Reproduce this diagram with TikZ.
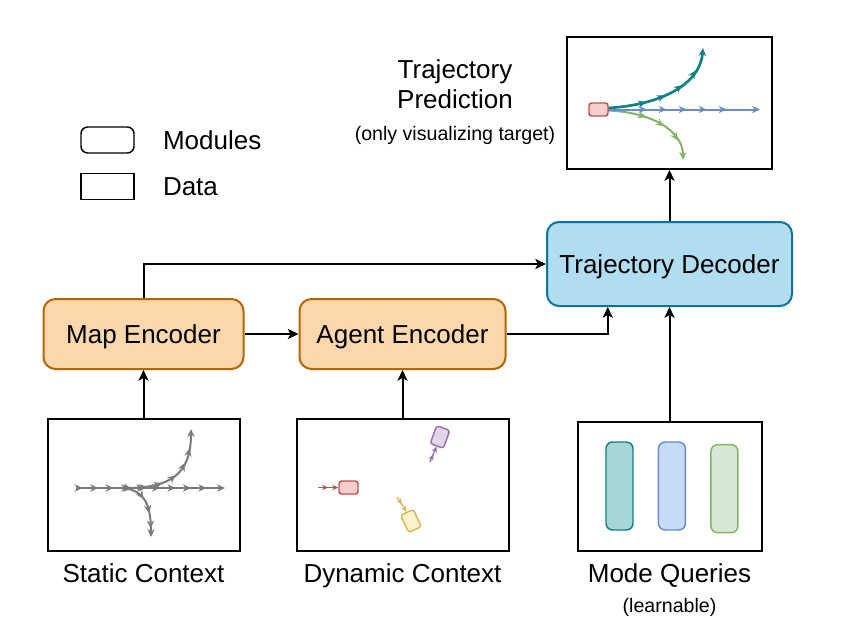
\documentclass[tikz,border=0pt]{standalone}
\usepackage{fontspec}
\setmainfont{Liberation Sans}
\usetikzlibrary{positioning,arrows.meta,calc,decorations.markings}

\definecolor{moduleFill}{HTML}{FAD7AC}
\definecolor{moduleDraw}{HTML}{B46504}
\definecolor{decoderFill}{HTML}{B1DDF0}
\definecolor{decoderDraw}{HTML}{10739E}
\definecolor{mapGray}{HTML}{7A7A7A}
\definecolor{redDraw}{HTML}{B85450}
\definecolor{redFill}{HTML}{F8CECC}
\definecolor{purpleDraw}{HTML}{9673A6}
\definecolor{purpleFill}{HTML}{E1D5E7}
\definecolor{yellowDraw}{HTML}{D6B656}
\definecolor{yellowFill}{HTML}{FFF2CC}
\definecolor{tealDraw}{HTML}{0E8088}
\definecolor{tealFill}{HTML}{A8D5D5}
\definecolor{blueDraw}{HTML}{6C8EBF}
\definecolor{blueFill}{HTML}{C6DBF5}
\definecolor{greenDraw}{HTML}{82B366}
\definecolor{greenFill}{HTML}{D5E8D4}

\begin{document}
\begin{tikzpicture}[x=0.75pt, y=-0.75pt]
  \newdimen\dist
  \dist=0.75pt

  \tikzstyle{module} = [
    % The shape:
    rectangle, minimum height=70*\dist, rounded corners=9pt,
    % The border:
    line width=1.5pt,
    draw=moduleDraw,
    % The filling:
    fill=moduleFill,
    % Font:
    font=\fontsize{19.5}{23}\selectfont, text height=14pt, text depth=0pt
  ];
  \tikzstyle{decoder} = [
    module,
    draw=decoderDraw,
    fill=decoderFill
  ];
  \tikzstyle{dataBox} = [
    % The shape:
    rectangle, minimum height=132*\dist,
    % The border:
    line width=1.5pt,
    draw=black
  ];
  \tikzstyle{keyBox} = [
    rectangle, minimum width=53*\dist, minimum height=26*\dist,
    line width=1.1pt,
    draw=black
  ];
  \tikzstyle{caption} = [
    % Just text!
    font=\fontsize{19.5}{23}\selectfont, text height=14pt, text depth=0pt,
    inner sep=0pt
  ];
  \tikzstyle{note} = [
    % Just text!
    font=\fontsize{14.7}{17}\selectfont, text height=10.6pt, text depth=0pt,
    inner sep=0pt
  ];
  \tikzstyle{agent} = [
    rectangle, minimum width=19*\dist, minimum height=13*\dist,
    rounded corners=2pt, inner sep=0pt,
    line width=1.1pt
  ];
  \tikzstyle{query} = [
    rectangle, minimum width=27*\dist, minimum height=88*\dist,
    rounded corners=5pt,
    line width=1.1pt
  ];
  \tikzstyle{flow} = [
    draw = black,
    line width=1.5pt,
    -{Stealth[length=8pt, width=7.5pt, inset=2pt]}
  ];
  \tikzstyle{mapTrail} = [
    draw = mapGray,
    line width=1.5pt,
    -{Stealth[length=6pt, width=5.5pt]},
    decoration={markings,
      mark=between positions 5pt and 0.92 step 11.6pt with
        {\arrow{Stealth[length=6pt, width=5.5pt]}}},
    postaction={decorate}
  ];
  \tikzstyle{predTrail} = [
    line width=1.5pt,
    -{Stealth[length=6pt, width=5.5pt]},
    decoration={markings,
      mark=between positions 29pt and 0.9 step 15pt with
        {\arrow{Stealth[length=6pt, width=5.5pt]}}},
    postaction={decorate}
  ];
  \tikzstyle{agentTrail} = [
    line width=1pt,
    -{Stealth[length=4.5pt, width=4pt]},
    decoration={markings,
      mark=at position 0.5 with {\arrow{Stealth[length=4.5pt, width=4pt]}}},
    postaction={decorate}
  ];

  \useasboundingbox (0,0) rectangle (844,618);

  % Legend
  \node [keyBox, rounded corners=5pt] (modulesKey) at (107.5,140) {};
  \node [keyBox, below = 19*\dist of modulesKey] (dataKey) {};
  \node [caption, right = 28*\dist of modulesKey] (modulesText) {Modules};
  \node [caption, right = 28*\dist of dataKey] (dataText) {Data};

  % Modules
  \node [module, minimum width=200*\dist] (mapEncoder) at (143.5,334) {Map Encoder};
  \node [module, minimum width=206*\dist, right = 54*\dist of mapEncoder] (agentEncoder) {Agent Encoder};
  \node [decoder, minimum width=245*\dist, minimum height=84*\dist] (trajectoryDecoder) at (669.5,264) {Trajectory Decoder};

  % Data
  \node [dataBox, minimum width=192*\dist, below = 48*\dist of mapEncoder] (staticContext) {};
  \node [dataBox, minimum width=212*\dist, below = 48*\dist of agentEncoder] (dynamicContext) {};
  \node [dataBox, minimum width=184*\dist, minimum height=129*\dist, below = 114*\dist of trajectoryDecoder] (modeQueries) {};
  \node [dataBox, minimum width=205*\dist, above = 51*\dist of trajectoryDecoder] (prediction) {};

  \node [caption, below = 12*\dist of staticContext] (staticLabel) {Static Context};
  \node [caption, below = 12*\dist of dynamicContext] (dynamicLabel) {Dynamic Context};
  \node [caption, below = 12*\dist of modeQueries] (modeLabel) {Mode Queries};
  \node [note, below = 15*\dist of modeLabel] (learnableNote) {(learnable)};
  \node [caption, align=center, text height=, font=\fontsize{19.5}{22.5}\selectfont] (predictionTitle) at (455,84) {Trajectory\\Prediction};
  \node [note] (predictionNote) at (455,133) {(only visualizing target)};

  % Static context: lanes
  \path [mapTrail] (76,488) to (225,488);
  \path [mapTrail] (125,488) .. controls (170,488) and (191,475) .. (191,429);
  \path [mapTrail] (125,488) .. controls (145,492) and (151,505) .. (151,537);

  % Dynamic context: agents
  \node [agent, draw=redDraw, fill=redFill] (egoAgent) at (348.5,487.5) {};
  \node [agent, draw=purpleDraw, fill=purpleFill, minimum width=14*\dist, minimum height=19*\dist, rotate=-20] (purpleAgent) at (440,437) {};
  \node [agent, draw=yellowDraw, fill=yellowFill, minimum width=14*\dist, minimum height=19*\dist, rotate=25] (yellowAgent) at (411,521) {};
  \path [agentTrail, draw=redDraw] (318,487.5) to (egoAgent.west);
  \path [agentTrail, draw=purpleDraw] (430,462) to (purpleAgent.south);
  \path [agentTrail, draw=yellowDraw] (397,497) to (yellowAgent.north);

  % Mode queries
  \node [query, draw=tealDraw, fill=tealFill] (tealQuery) at (619.5,486) {};
  \node [query, draw=blueDraw, fill=blueFill, right = 24*\dist of tealQuery] (blueQuery) {};
  \node [query, draw=greenDraw, fill=greenFill, right = 24*\dist of blueQuery, yshift=-2pt] (greenQuery) {};

  % Prediction of the target
  \path [predTrail, draw=greenDraw] (608,110.5) .. controls (650,112) and (683,130) .. (683,160);
  \path [predTrail, draw=tealDraw, line width=2pt] (608,108) .. controls (660,105) and (700,85) .. (703,48);
  \path [predTrail, draw=blueDraw] (608,109.5) to (760,109.5);
  \node [agent, draw=redDraw, fill=redFill] (predTarget) at (598.5,109.5) {};

  % Flows
  \path [flow] (staticContext) to (mapEncoder);
  \path [flow] (dynamicContext) to (agentEncoder);
  \path [flow] (mapEncoder) to (agentEncoder);
  \path [flow] (mapEncoder.north) |- (trajectoryDecoder.west);
  \path [flow] (agentEncoder.east) -| ($(trajectoryDecoder.south)!0.5!(trajectoryDecoder.south west)$);
  \path [flow] (modeQueries) to (trajectoryDecoder);
  \path [flow] (trajectoryDecoder) to (prediction);
\end{tikzpicture}
\end{document}
